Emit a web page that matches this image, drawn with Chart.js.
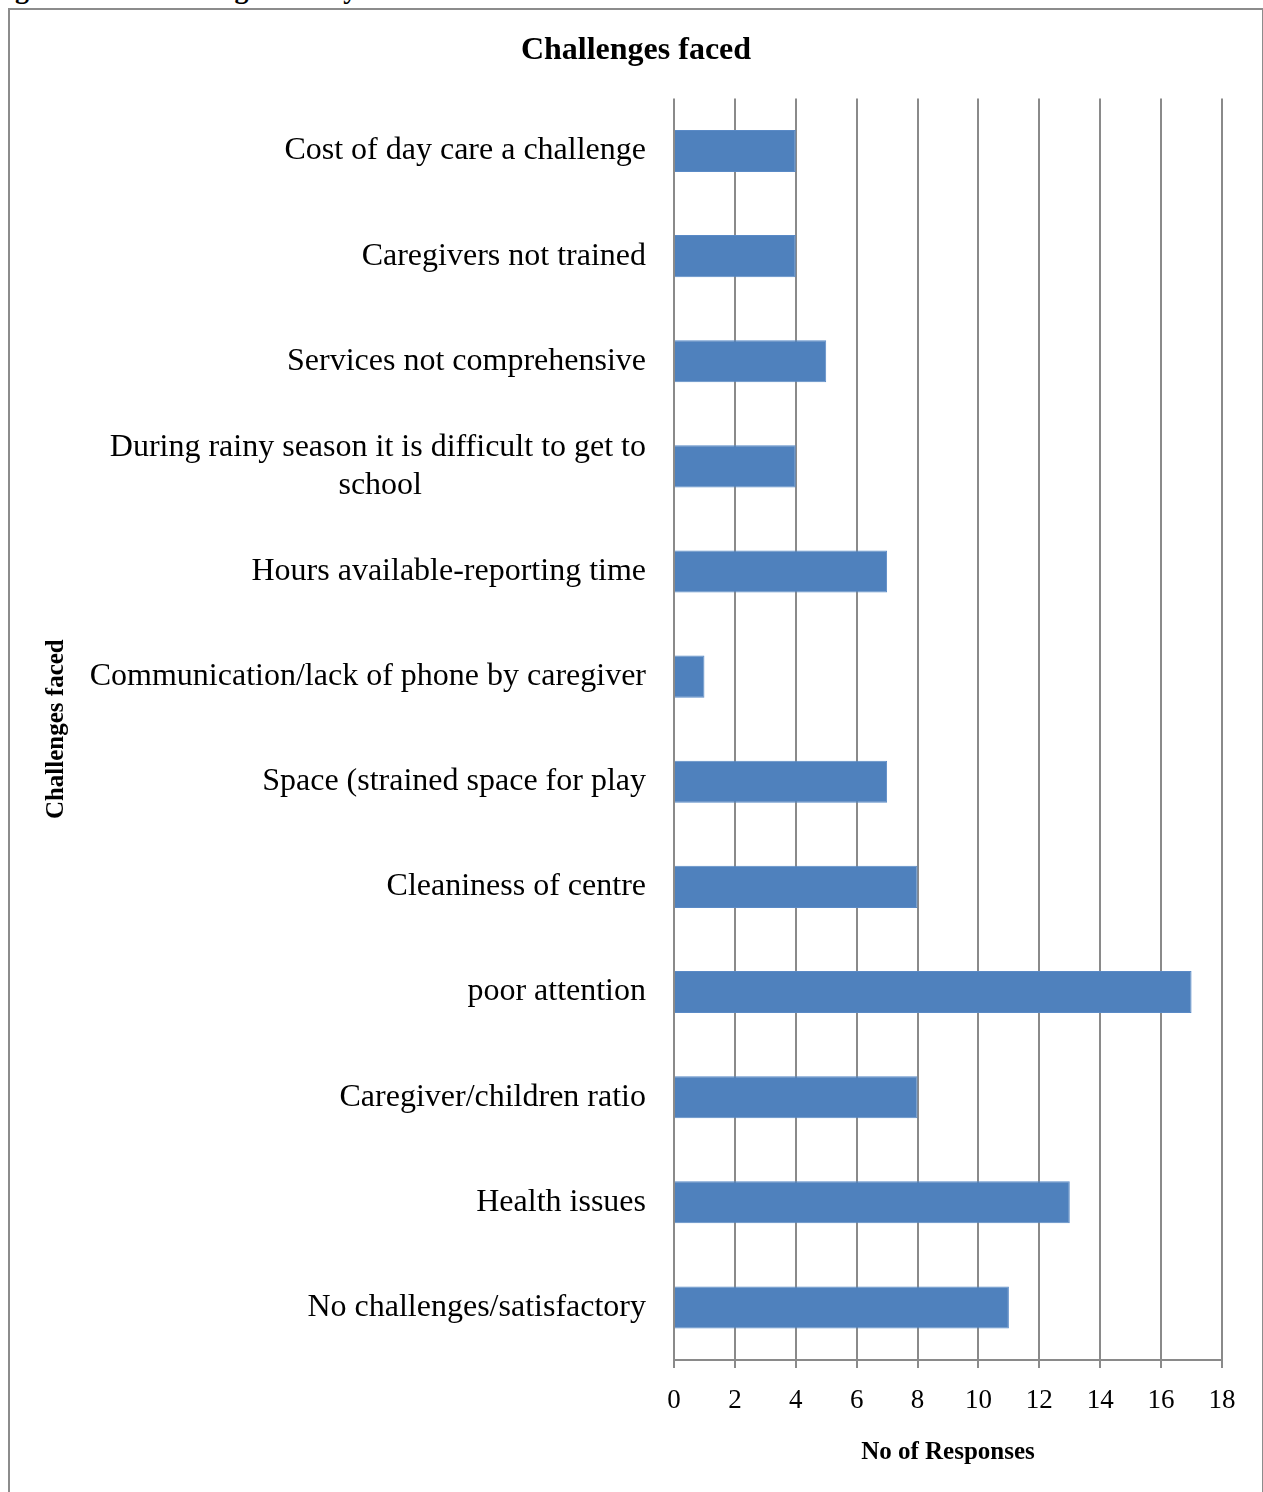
<!DOCTYPE html>
<html>
<head>
<meta charset="utf-8">
<script src="https://cdn.jsdelivr.net/npm/chart.js@4/dist/chart.umd.min.js"></script>
<style>
  html, body { margin: 0; padding: 0; background: #fff; overflow: hidden; }
  #cap { position: absolute; left: -10px; top: -27px; font: bold 28px "Liberation Serif", "Times New Roman", serif; color: #000; white-space: nowrap; }
  #frame { position: absolute; left: 8px; top: 8px; width: 1252px; height: 1500px; border: 2px solid #8c8c8c; background: #fff; }
  #wrap { position: absolute; left: 0; top: 0; width: 1252px; height: 1482px; }
</style>
</head>
<body>
<div id="cap">Figure 4.14: Challenges of Day care Use</div>
<div id="frame"><div id="wrap"><canvas id="c"></canvas></div></div>
<script>
const chartTitle = 'Challenges faced';
const xAxisTitle = 'No of Responses';
const yAxisTitle = 'Challenges faced';
const categories = [
  'Cost of day care a challenge',
  'Caregivers not trained',
  'Services not comprehensive',
  ['During rainy season it is difficult to get to', 'school'],
  'Hours available-reporting time',
  'Communication/lack of phone by caregiver',
  'Space (strained space for play',
  'Cleaniness of centre',
  'poor attention',
  'Caregiver/children ratio',
  'Health issues',
  'No challenges/satisfactory'
];
const responses = [4, 4, 5, 4, 7, 1, 7, 8, 17, 8, 13, 11];
const xMin = 0, xMax = 18, xStep = 2;

const serif = '"Liberation Serif", "Times New Roman", serif';
const labelSize = 32;

// center the lines of a multi-line label under its widest line (right-aligned block)
const measureCtx = document.createElement('canvas').getContext('2d');
measureCtx.font = labelSize + 'px ' + serif;
function centerLines(lines) {
  const widths = lines.map(l => measureCtx.measureText(l).width);
  const maxW = Math.max(...widths);
  const spW = measureCtx.measureText('\u00a0').width;
  return lines.map((l, i) => l + '\u00a0'.repeat(Math.round((maxW - widths[i]) / 2 / spW)));
}

// the title is centred over the whole frame, not only the area left of the right padding
const titleShift = {
  id: 'titleShift',
  afterLayout(chart) { if (chart.titleBlock) chart.titleBlock.right += 40; }
};

new Chart(document.getElementById('c'), {
  type: 'bar',
  data: {
    labels: categories,
    datasets: [{
      data: responses,
      backgroundColor: '#4f81bd',
      borderColor: '#5a8ac6',
      borderWidth: 1,
      barPercentage: 0.4,
      categoryPercentage: 1.0
    }]
  },
  plugins: [titleShift],
  options: {
    indexAxis: 'y',
    responsive: true,
    maintainAspectRatio: false,
    animation: false,
    layout: { padding: { top: 22, right: 40, bottom: 0, left: 0 } },
    plugins: {
      legend: { display: false },
      tooltip: { enabled: false },
      title: {
        display: true,
        text: chartTitle,
        color: '#000',
        font: { family: serif, size: 32, weight: 'bold' },
        padding: { top: 0, bottom: 28 }
      }
    },
    scales: {
      x: {
        min: xMin, max: xMax,
        ticks: { stepSize: xStep, color: '#000', font: { family: serif, size: 27 }, padding: 17 },
        grid: { color: '#8a8a8a', lineWidth: 2, tickLength: 8, drawOnChartArea: true },
        border: { color: '#8a8a8a', width: 2 },
        title: { display: true, text: xAxisTitle, color: '#000', font: { family: serif, size: 25, weight: 'bold' }, padding: { top: 14, bottom: 24 } },
        afterFit: s => { s.height = 132; }
      },
      y: {
        ticks: {
          color: '#000', font: { family: serif, size: labelSize }, padding: 28, autoSkip: false,
          callback: function (v) {
            const l = this.chart.data.labels[v];
            return Array.isArray(l) ? centerLines(l) : l;
          }
        },
        grid: { display: false, drawTicks: false },
        border: { display: false },
        title: { display: true, text: yAxisTitle, color: '#000', font: { family: serif, size: 25, weight: 'bold' }, padding: { top: 32, bottom: 0 } },
        afterFit: s => { s.width = 664; }
      }
    }
  }
});
</script>
</body>
</html>
